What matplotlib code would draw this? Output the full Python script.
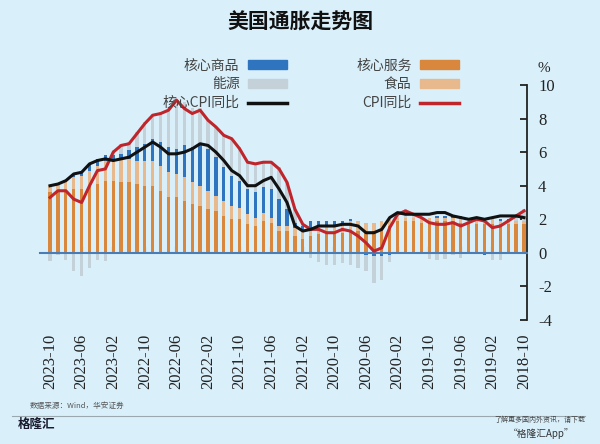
import matplotlib
matplotlib.use("Agg")
import matplotlib.pyplot as plt
from matplotlib.lines import Line2D
from matplotlib.patches import Patch
import numpy as np

# Months 2018-10 .. 2023-10 (61 months)
months = (["2018-10", "2018-11", "2018-12"]
          + [f"{y}-{m:02d}" for y in (2019, 2020, 2021, 2022) for m in range(1, 13)]
          + [f"2023-{m:02d}" for m in range(1, 11)])

tick_labels = ["2018-10", "2019-02", "2019-06", "2019-10", "2020-02", "2020-06",
               "2020-10", "2021-02", "2021-06", "2021-10", "2022-02", "2022-06",
               "2022-10", "2023-02", "2023-06", "2023-10"]

cpi = [2.5, 2.2, 1.9,
       1.6, 1.5, 1.9, 2.0, 1.8, 1.6, 1.8, 1.7, 1.7, 1.8, 2.1, 2.3,
       2.5, 2.3, 1.5, 0.3, 0.1, 0.6, 1.0, 1.3, 1.4, 1.2, 1.2, 1.4,
       1.4, 1.7, 2.6, 4.2, 5.0, 5.4, 5.4, 5.3, 5.4, 6.2, 6.8, 7.0,
       7.5, 7.9, 8.5, 8.3, 8.6, 9.1, 8.5, 8.3, 8.2, 7.7, 7.1, 6.5,
       6.4, 6.0, 5.0, 4.9, 4.0, 3.0, 3.2, 3.7, 3.7, 3.3]

core_cpi = [2.1, 2.2, 2.2,
            2.2, 2.1, 2.0, 2.1, 2.0, 2.1, 2.2, 2.4, 2.4, 2.3, 2.3, 2.3,
            2.3, 2.4, 2.1, 1.4, 1.2, 1.2, 1.6, 1.7, 1.7, 1.6, 1.6, 1.6,
            1.4, 1.3, 1.6, 3.0, 3.8, 4.5, 4.3, 4.0, 4.0, 4.6, 4.9, 5.5,
            6.0, 6.4, 6.5, 6.2, 6.0, 5.9, 5.9, 6.3, 6.6, 6.3, 6.0, 5.7,
            5.6, 5.5, 5.6, 5.5, 5.3, 4.8, 4.7, 4.3, 4.1, 4.0]

core_services = [1.7, 1.7, 1.7,
                 1.7, 1.7, 1.7, 1.7, 1.7, 1.8, 1.9, 1.9, 1.9, 1.8, 1.8, 1.9,
                 1.9, 1.9, 1.6, 1.4, 1.3, 1.2, 1.3, 1.3, 1.2, 1.1, 1.1, 1.1,
                 1.0, 0.8, 1.0, 1.3, 1.3, 1.8, 1.9, 1.6, 1.7, 2.0, 2.0, 2.2,
                 2.5, 2.6, 2.8, 2.9, 3.1, 3.3, 3.3, 3.7, 4.0, 4.0, 4.1, 4.2,
                 4.2, 4.3, 4.3, 4.1, 4.0, 3.8, 3.8, 3.7, 3.6, 3.6]

core_goods = [0.0, 0.0, 0.1,
              0.1, 0.0, -0.1, 0.0, 0.0, 0.1, 0.1, 0.1, 0.1, 0.0, 0.0, 0.0,
              0.0, 0.0, -0.1, -0.2, -0.2, -0.1, 0.0, 0.1, 0.2, 0.3, 0.3, 0.3,
              0.4, 0.3, 0.3, 1.0, 1.6, 1.7, 1.5, 1.5, 1.5, 1.6, 1.8, 2.0,
              2.3, 2.5, 2.4, 2.1, 1.9, 1.5, 1.5, 1.4, 1.3, 1.0, 0.8, 0.5,
              0.3, 0.2, 0.3, 0.4, 0.4, 0.3, 0.2, 0.0, 0.0, 0.0]

food = [0.2, 0.2, 0.2,
        0.2, 0.3, 0.3, 0.3, 0.3, 0.3, 0.2, 0.2, 0.2, 0.3, 0.3, 0.2,
        0.2, 0.2, 0.4, 0.5, 0.5, 0.6, 0.6, 0.6, 0.5, 0.5, 0.5, 0.5,
        0.5, 0.5, 0.5, 0.3, 0.3, 0.3, 0.5, 0.5, 0.6, 0.7, 0.8, 0.9,
        0.9, 1.1, 1.2, 1.3, 1.4, 1.4, 1.5, 1.5, 1.5, 1.5, 1.4, 1.4,
        1.4, 1.3, 1.2, 1.1, 0.9, 0.8, 0.7, 0.6, 0.5, 0.45]

energy = [0.7, 0.25, 0.0,
          -0.4, -0.4, 0.0, 0.15, -0.05, -0.3, -0.15, -0.35, -0.4, -0.35, -0.05, 0.3,
          0.5, 0.2, -0.45, -1.4, -1.6, -1.0, -0.9, -0.7, -0.6, -0.7, -0.75, -0.55,
          -0.3, 0.2, 0.8, 1.6, 1.9, 1.6, 1.5, 1.7, 1.6, 2.0, 2.2, 2.0,
          1.8, 1.7, 2.2, 2.3, 2.6, 2.9, 2.4, 1.8, 1.5, 1.3, 0.9, 0.5,
          0.6, 0.3, -0.5, -0.4, -0.9, -1.4, -1.1, -0.4, -0.1, -0.5]

BG = "#d9f0fb"
C_SERV = "#d8873c"
C_FOOD = "#e8b98c"
C_GOODS = "#2f74bf"
C_ENER = "#c4d1d8"
C_CPI = "#c0252b"
C_CORE = "#111111"

plt.rcParams['font.family'] = ['Noto Sans CJK SC', 'DejaVu Sans']
SERIF = ['Liberation Serif', 'DejaVu Serif']

fig = plt.figure(figsize=(6, 4.44), dpi=100, facecolor=BG)
ax = fig.add_axes([40 / 600, 1 - 320 / 444, (527 - 40) / 600, (320 - 85) / 444])
ax.set_facecolor(BG)

x = np.arange(len(months))
w = 0.42
series = [(core_services, C_SERV), (food, C_FOOD), (core_goods, C_GOODS), (energy, C_ENER)]
pos_base = np.zeros(len(x))
neg_base = np.zeros(len(x))
for vals, col in series:
    v = np.array(vals, dtype=float)
    p = np.where(v > 0, v, 0)
    n = np.where(v < 0, v, 0)
    ax.bar(x, p, w, bottom=pos_base, color=col, linewidth=0, zorder=2)
    ax.bar(x, n, w, bottom=neg_base, color=col, linewidth=0, zorder=2)
    pos_base += p
    neg_base += n

ax.plot(x, cpi, color=C_CPI, lw=2.2, zorder=4)
ax.plot(x, core_cpi, color=C_CORE, lw=2.2, zorder=5)

ax.set_xlim(61.27, -0.38)
ax.set_ylim(-4, 10)

for s in ("top", "left"):
    ax.spines[s].set_visible(False)
ax.spines["bottom"].set_position(("data", 0))
ax.spines["bottom"].set_color("#4a7db5")
ax.spines["bottom"].set_linewidth(1.5)
ax.spines["right"].set_color("#222222")
ax.spines["right"].set_linewidth(1.3)

ax.yaxis.tick_right()
ax.set_yticks(range(-4, 11, 2))
ax.set_yticklabels([str(v) for v in range(-4, 11, 2)], fontfamily=SERIF, fontsize=12, color="#222222")
ax.tick_params(axis="y", direction="in", length=5, width=1.3, pad=8, colors="#222222")

tick_pos = [months.index(t) for t in tick_labels]
ax.set_xticks(tick_pos)
ax.set_xticklabels(tick_labels, rotation=90, fontfamily=SERIF, fontsize=12, color="#222222")
ax.tick_params(axis="x", direction="in", length=4, width=1.5, pad=58, color="#333333")

ax.text(1.035, 1.07, "%", transform=ax.transAxes, fontfamily=SERIF, fontsize=11,
        color="#222222", ha="center", va="center")

handles = [Patch(color=C_GOODS), Patch(color=C_ENER), Line2D([], [], color=C_CORE, lw=2.5),
           Patch(color=C_SERV), Patch(color=C_FOOD), Line2D([], [], color=C_CPI, lw=2.5)]
labels = ["核心商品", "能源", "核心CPI同比", "核心服务", "食品", "CPI同比"]
leg = fig.legend(handles, labels, ncol=2, markerfirst=False, frameon=False,
                 loc="upper left", bbox_to_anchor=(150 / 600, 1 - 46 / 444),
                 fontsize=10, handlelength=2.8, handleheight=0.6, columnspacing=5.0,
                 labelspacing=0.35, handletextpad=0.6, labelcolor="#444444")

fig.text(0.5, 1 - 22 / 444, "美国通胀走势图", ha="center", va="center", fontsize=15,
         fontweight="bold", color="#111111")

fig.text(30 / 600, 1 - 406 / 444, "数据来源：Wind，华安证券", fontsize=5.5, color="#555555",
         ha="left", va="center")
fig.add_artist(Line2D([12 / 600, 585 / 600], [1 - 416 / 444, 1 - 416 / 444],
                      color="#9aa8b0", lw=0.8, transform=fig.transFigure))
fig.text(18 / 600, 1 - 424 / 444, "格隆汇", fontsize=9, fontweight="bold", color="#1a1a2e",
         ha="left", va="center")
fig.text(585 / 600, 1 - 420 / 444, "了解更多国内外资讯，请下载", fontsize=5, color="#444444",
         ha="right", va="center")
fig.text(575 / 600, 1 - 434 / 444, "“格隆汇App”", fontsize=7, color="#333333",
         ha="right", va="center")

fig.savefig("out.png", dpi=100, facecolor=BG)
